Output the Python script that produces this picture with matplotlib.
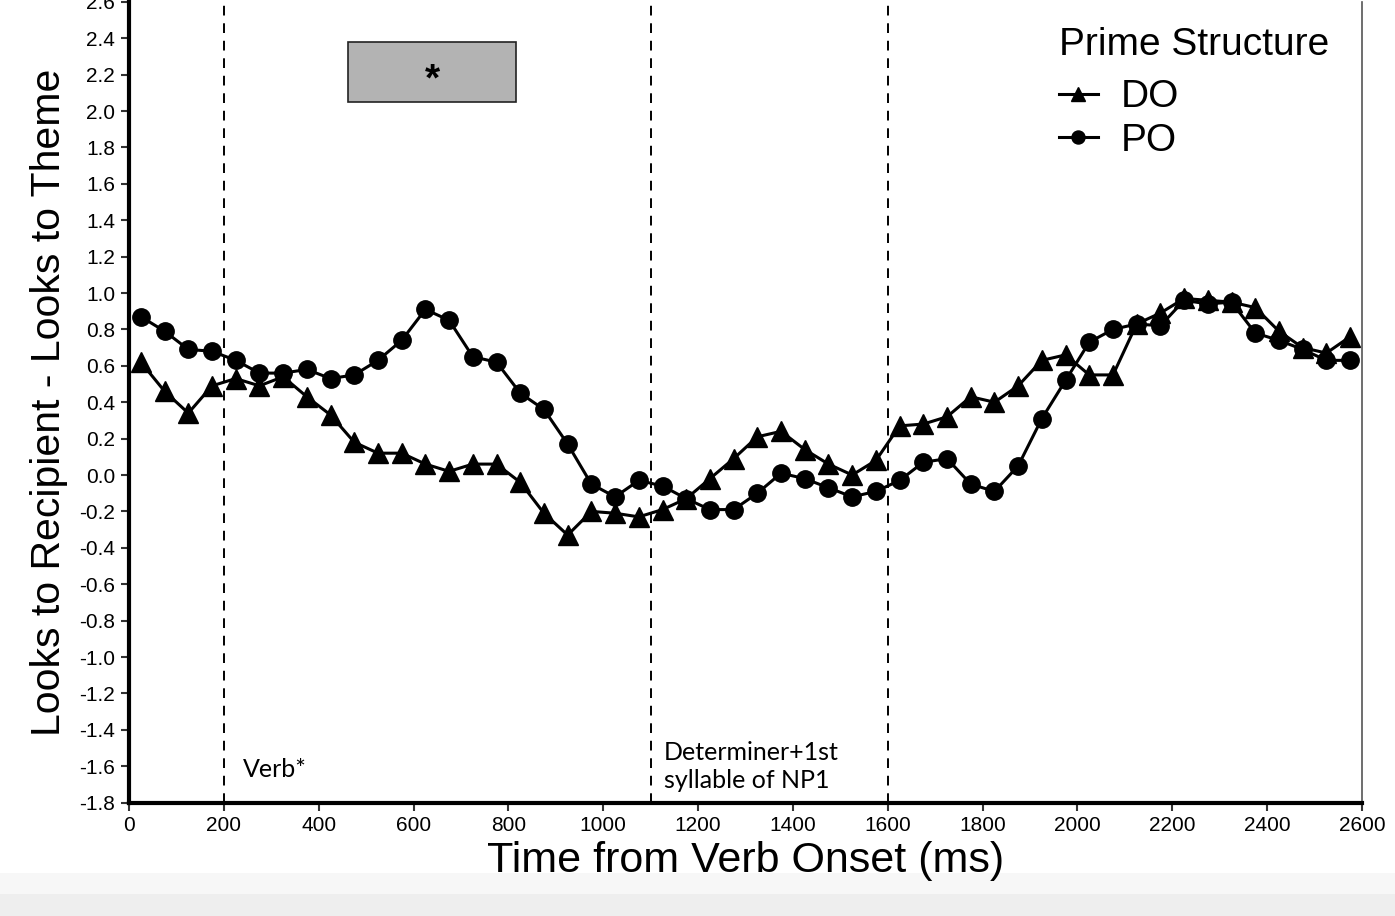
import numpy as np
import matplotlib.pyplot as plt
from matplotlib.patches import Rectangle

# time bins (ms, bin centres)
time_ms = np.arange(25, 2600, 50)

do_vals = [0.62, 0.46, 0.34, 0.49, 0.53, 0.49, 0.54, 0.43, 0.33, 0.18,
           0.12, 0.12, 0.06, 0.02, 0.06, 0.06, -0.04, -0.21, -0.33, -0.20,
           -0.21, -0.23, -0.19, -0.13, -0.02, 0.09, 0.21, 0.24, 0.14, 0.06,
           0.00, 0.08, 0.27, 0.28, 0.32, 0.43, 0.40, 0.49, 0.63, 0.66,
           0.55, 0.55, 0.83, 0.89, 0.97, 0.96, 0.95, 0.92, 0.79, 0.70,
           0.67, 0.76]
po_vals = [0.87, 0.79, 0.69, 0.68, 0.63, 0.56, 0.56, 0.58, 0.53, 0.55,
           0.63, 0.74, 0.91, 0.85, 0.65, 0.62, 0.45, 0.36, 0.17, -0.05,
           -0.12, -0.03, -0.06, -0.13, -0.19, -0.19, -0.10, 0.01, -0.02, -0.07,
           -0.12, -0.09, -0.03, 0.07, 0.09, -0.05, -0.09, 0.05, 0.31, 0.52,
           0.73, 0.80, 0.83, 0.82, 0.96, 0.94, 0.95, 0.78, 0.74, 0.69,
           0.63, 0.63]

event_lines = [200, 1100, 1600]
sig_window = (462, 816)
sig_y = (2.05, 2.38)
y_ticks = [round(-1.8 + 0.2 * i, 1) for i in range(23)]

fig = plt.figure(figsize=(13.95, 9.16), dpi=100)

# grey strip along the bottom of the screenshot (behind everything)
strip = fig.add_axes([0, 0, 1, 0.047], zorder=-5)
strip.set_xlim(0, 1)
strip.set_ylim(0, 1)
strip.axhspan(0, 0.5, color='#eeeeee', lw=0)
strip.axhspan(0.5, 1, color='#f7f7f7', lw=0)
strip.axis('off')

ax = fig.add_axes([0.0925, 0.1238, 0.8838, 0.8742])
ax.patch.set_alpha(0)

tick_font = ['Liberation Sans', 'DejaVu Sans']
note_font = ['Lato', 'DejaVu Sans']

ax.plot(time_ms, do_vals, color='black', lw=2.2, marker='^', ms=14,
        label='DO', zorder=3)
ax.plot(time_ms, po_vals, color='black', lw=2.2, marker='o', ms=12.5,
        label='PO', zorder=3)

for xv in event_lines:
    ax.axvline(xv, color='black', lw=1.4, ls=(0, (5, 4)), zorder=1)

ax.add_patch(Rectangle((sig_window[0], sig_y[0]), sig_window[1] - sig_window[0],
                       sig_y[1] - sig_y[0], facecolor='#b3b3b3',
                       edgecolor='#222222', lw=1.2, zorder=2))
ax.text(sum(sig_window) / 2, 2.17, '*', ha='center', va='center',
        fontsize=28, fontweight='bold', family=tick_font)

ax.text(240, -1.62, 'Verb*', fontsize=18, family=note_font,
        ha='left', va='center')
ax.text(1128, -1.6, 'Determiner+1st\nsyllable of NP1', fontsize=18,
        family=note_font, ha='left', va='center', linespacing=1.25)

ax.set_xlim(0, 2600)
ax.set_ylim(-1.8, 2.6)
ax.set_xticks(np.arange(0, 2601, 200))
ax.set_yticks(y_ticks)
ax.set_yticklabels([f'{v:.1f}' for v in y_ticks])

for lab in ax.get_xticklabels() + ax.get_yticklabels():
    lab.set_family(tick_font)
    lab.set_fontsize(15)
ax.tick_params(direction='out', length=6, width=1.5, color='#333333', pad=4)

ax.spines['top'].set_visible(False)
ax.spines['left'].set_linewidth(3)
ax.spines['bottom'].set_linewidth(3)
ax.spines['right'].set_linewidth(1.2)
ax.spines['right'].set_color('#555555')

ax.set_xlabel('Time from Verb Onset (ms)', fontsize=31, family=tick_font,
              labelpad=4)
ax.set_ylabel('Looks to Recipient - Looks to Theme', fontsize=29.5,
              family=tick_font, labelpad=8)

leg = ax.legend(title='Prime Structure', loc='upper left',
                bbox_to_anchor=(0.754, 0.969), frameon=False,
                title_fontsize=28, alignment='left', handlelength=1.0,
                handletextpad=0.6, labelspacing=0.2, markerscale=0.75,
                borderpad=0, borderaxespad=0,
                prop={'family': tick_font, 'size': 28})
leg.get_title().set_family(tick_font)
leg._legend_box.sep = 12

fig.savefig('out.png', dpi=100)
